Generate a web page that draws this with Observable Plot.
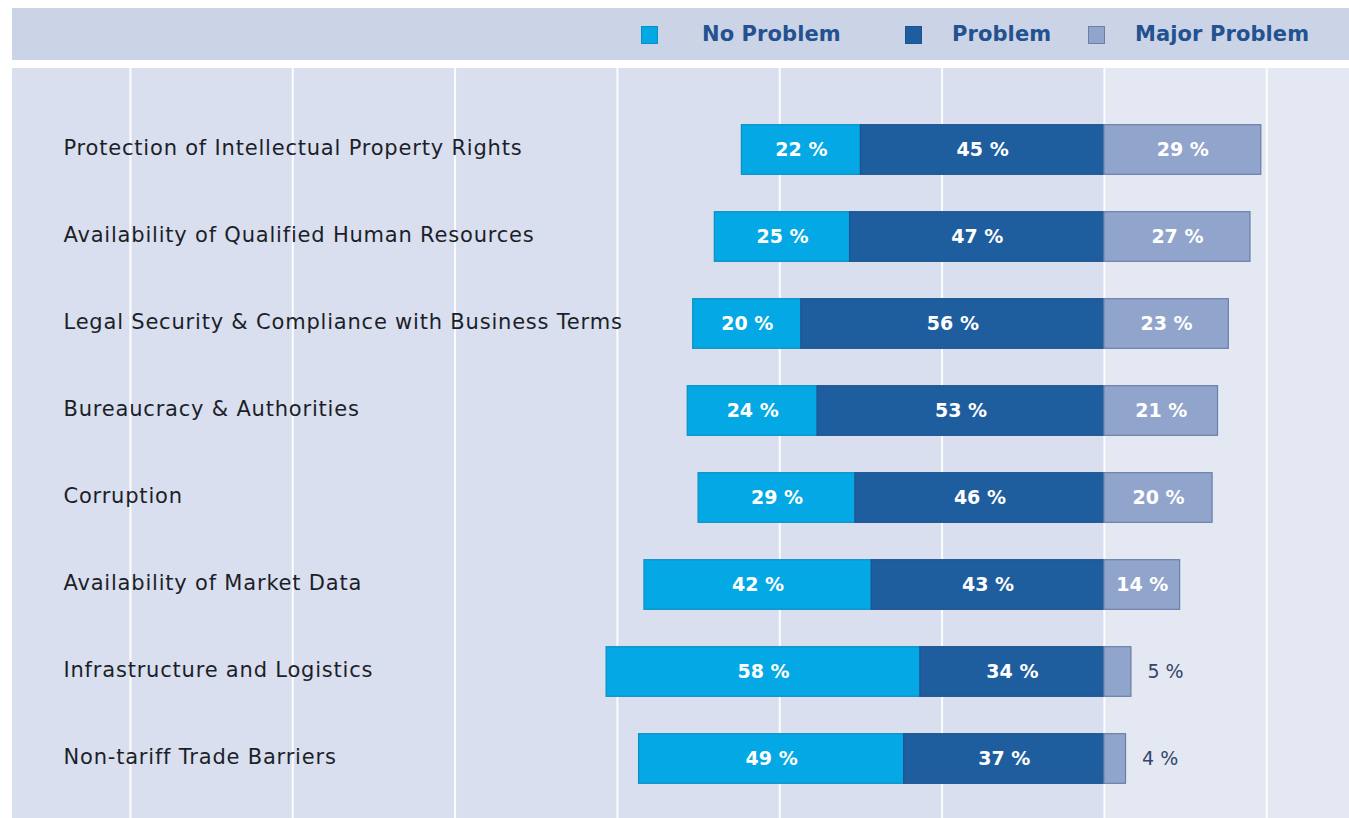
<!DOCTYPE html>
<html>
<head>
<meta charset="utf-8">
<script src="https://cdn.jsdelivr.net/npm/d3@7"></script>
<script src="https://cdn.jsdelivr.net/npm/@observablehq/plot@0.6"></script>
<style>
  html, body { margin: 0; padding: 0; background: #ffffff; }
  body { width: 1349px; height: 818px; overflow: hidden; position: relative; font-family: "DejaVu Sans", sans-serif; }
  #header { position: absolute; left: 12px; top: 8px; width: 1337px; height: 52px; background: #cbd4e6; }
  .lg { position: absolute; top: 0; height: 52px; display: flex; align-items: center; }
  .sw { width: 17px; height: 18px; box-sizing: border-box; border: 1.5px solid; margin-top: 2px; }
  .lt { font-size: 21px; font-weight: bold; color: #24518f; letter-spacing: 0.1px; }
  #chart { position: absolute; left: 12px; top: 68px; }
  #chart g[aria-label="y-axis tick label"] text { letter-spacing: 0.8px; }
</style>
</head>
<body>
<div id="header"></div>
<div id="chart"></div>
<script>
// ---- data ----
const categories = [
  "Protection of Intellectual Property Rights",
  "Availability of Qualified Human Resources",
  "Legal Security & Compliance with Business Terms",
  "Bureaucracy & Authorities",
  "Corruption",
  "Availability of Market Data",
  "Infrastructure and Logistics",
  "Non-tariff Trade Barriers"
];
const noProblem    = [22, 25, 20, 24, 29, 42, 58, 49];
const problem      = [45, 47, 56, 53, 46, 43, 34, 37];
const majorProblem = [29, 27, 23, 21, 20, 14, 5, 4];
const seriesNames  = ["No Problem", "Problem", "Major Problem"];
const gridTicks    = [-180, -150, -120, -90, -60, -30, 0, 30];

const colors = { "No Problem": "#04a8e4", "Problem": "#1f5e9e", "Major Problem": "#91a5cc" };
const strokes = { "No Problem": "#0a8fc4", "Problem": "#1b5390", "Major Problem": "#6a7fa8" };

// ---- build table ----
const rows = [];
categories.forEach((c, i) => {
  const np = noProblem[i], p = problem[i], m = majorProblem[i];
  rows.push({cat: c, series: "No Problem", value: np, x1: -(np + p), x2: -p});
  rows.push({cat: c, series: "Problem", value: p, x1: -p, x2: 0});
  rows.push({cat: c, series: "Major Problem", value: m, x1: 0, x2: m});
});
const inside = rows.filter(d => d.value >= 10);
const outside = rows.filter(d => d.value < 10);

const xMin = -201.8, xMax = 45.3;

// ---- legend ----
const header = document.getElementById("header");
const legendPos = [629, 893, 1076];
seriesNames.forEach((s, i) => {
  const el = document.createElement("div");
  el.className = "lg";
  el.style.left = legendPos[i] + "px";
  el.innerHTML = `<div class="sw" style="background:${colors[s]};border-color:${strokes[s]}"></div>` +
    `<span class="lt" style="margin-left:${i === 0 ? 44 : 30}px">${s}</span>`;
  header.appendChild(el);
});

// ---- chart ----
const chart = Plot.plot({
  width: 1337,
  height: 750,
  marginLeft: 0,
  marginRight: 0,
  marginTop: 0,
  marginBottom: 0,
  style: { background: "#d9dfee", fontFamily: "DejaVu Sans, sans-serif", overflow: "visible" },
  x: { domain: [xMin, xMax], axis: null },
  y: { domain: categories, range: [36.3, 735.7], padding: 0, axis: null },
  marks: [
    Plot.rect({length: 1}, {x1: 0, x2: xMax, fill: "#e3e8f3"}),
    Plot.ruleX(gridTicks, {stroke: "#ffffff", strokeWidth: 2, strokeOpacity: 0.9}),
    Plot.barX(rows, {
      x1: "x1", x2: "x2", y: "cat",
      fill: d => colors[d.series],
      stroke: d => strokes[d.series],
      strokeWidth: 1.2,
      insetTop: 18.7, insetBottom: 18.7
    }),
    Plot.text(inside, {
      x: d => (d.x1 + d.x2) / 2, y: "cat",
      text: d => d.value + " %",
      fill: "#ffffff", fontWeight: "bold", fontSize: 19
    }),
    Plot.text(outside, {
      x: "x2", y: "cat",
      text: d => d.value + " %",
      fill: "#34466a", fontSize: 19, textAnchor: "start", dx: 16
    }),
    Plot.axisY({
      anchor: "left", tickSize: 0, tickPadding: 0, textAnchor: "start",
      dx: 51, dy: -2, fontSize: 21, fill: "#1c1f2a", label: null
    })
  ]
});
document.getElementById("chart").appendChild(chart);
</script>
</body>
</html>
